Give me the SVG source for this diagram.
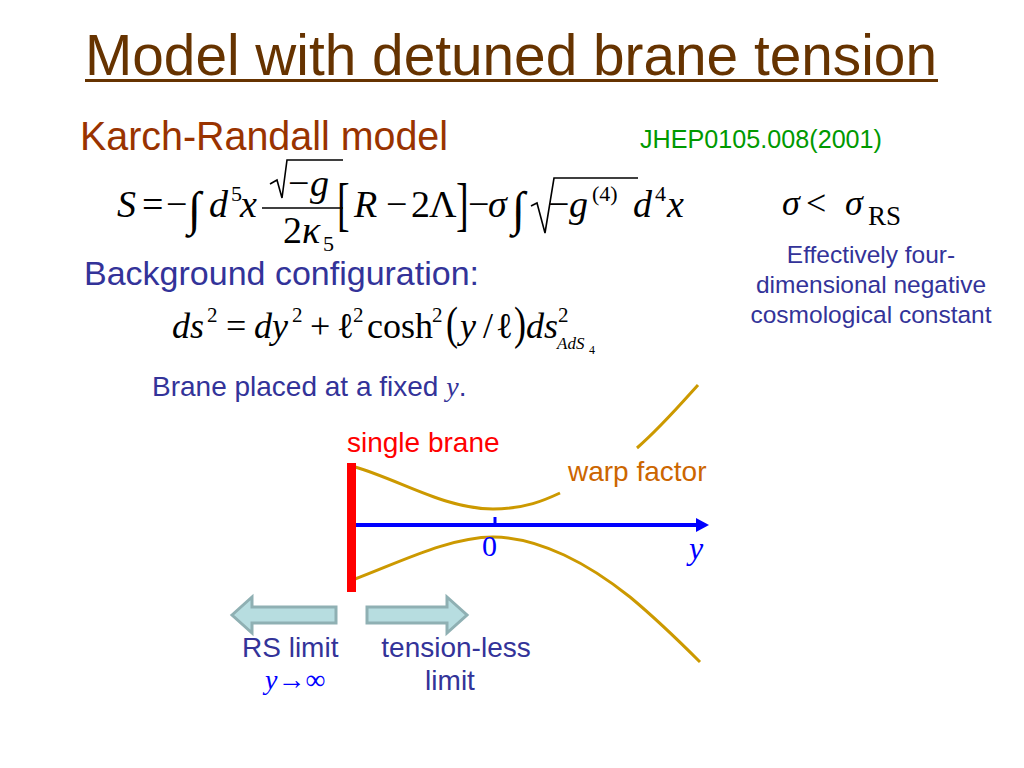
<svg xmlns="http://www.w3.org/2000/svg" width="1024" height="768" viewBox="0 0 1024 768">
<style>
.sans{font-family:"Liberation Sans",Arial,sans-serif}
.m{font-family:"Liberation Serif","Times New Roman",serif;fill:#000}
.i{font-style:italic}
.blue{fill:#333399}
.warp{fill:none;stroke:#CC9900;stroke-width:3}
.barrow{fill:#B7DDE0;stroke:#8FB0B3;stroke-width:3}
.rad{fill:none;stroke:#000;stroke-width:1.6}
</style>
<rect width="1024" height="768" fill="#fff"/>
<g id="title">
<text x="85" y="75" class="sans" font-size="58" fill="#663300" textLength="852" lengthAdjust="spacingAndGlyphs">Model with detuned brane tension</text>
<line x1="85" y1="80.5" x2="938" y2="80.5" stroke="#663300" stroke-width="3"/>
</g>
<g id="karch">
<text x="80" y="150" class="sans" font-size="40" fill="#993300" textLength="368" lengthAdjust="spacingAndGlyphs">Karch-Randall model</text>
<text x="640" y="148" class="sans" font-size="25" fill="#009900" textLength="242" lengthAdjust="spacingAndGlyphs">JHEP0105.008(2001)</text>
</g>
<g id="action" class="m" font-size="38">
<text x="117" y="217" class="i">S</text>
<text x="142" y="217">=</text>
<text x="166" y="217">−</text>
<text x="188" y="225" font-size="48">∫</text>
<text x="209" y="217" class="i">d</text>
<text x="231" y="201" font-size="22">5</text>
<text x="240" y="217" class="i">x</text>
<line x1="262" y1="208" x2="343" y2="208" stroke="#000" stroke-width="1.6"/>
<path class="rad" d="M270,184 L277,180 L282,198 L287,160 L343,160"/>
<text x="288" y="196">−</text>
<text x="310" y="196" class="i">g</text>
<text x="283" y="243">2</text>
<text x="302" y="243" class="i">κ</text>
<text x="323" y="251" font-size="22">5</text>
<text transform="translate(337,224) scale(1,1.55)">[</text>
<text x="354" y="217" class="i">R</text>
<text x="386" y="217">−</text>
<text x="411" y="217">2</text>
<text x="429" y="217">Λ</text>
<text transform="translate(456,224) scale(1,1.55)">]</text>
<text x="468" y="217">−</text>
<text x="488" y="217" class="i">σ</text>
<text x="512" y="225" font-size="48">∫</text>
<path class="rad" d="M531,206 L537,203 L545,233 L554,178 L638,178"/>
<text x="548" y="217">−</text>
<text x="569" y="217" class="i">g</text>
<text x="592" y="201" font-size="22">(4)</text>
<text x="633" y="217" class="i">d</text>
<text x="655" y="201" font-size="22">4</text>
<text x="667" y="217" class="i">x</text>
</g>
<g id="sigma" class="m" font-size="36">
<text x="782" y="215" class="i">σ</text>
<text x="806" y="215">&lt;</text>
<text x="845" y="215" class="i">σ</text>
<text x="868" y="225" font-size="27">RS</text>
</g>
<g id="effective" class="sans blue" font-size="24.5" text-anchor="middle">
<text x="871" y="263">Effectively four-</text>
<text x="871" y="293">dimensional negative</text>
<text x="871" y="323">cosmological constant</text>
</g>
<g id="background">
<text x="84" y="285" class="sans blue" font-size="34">Background configuration:</text>
</g>
<g id="metric" class="m" font-size="36">
<text x="172" y="338" class="i">ds</text>
<text x="207" y="322" font-size="21">2</text>
<text x="226" y="338">=</text>
<text x="254" y="338" class="i">dy</text>
<text x="292" y="322" font-size="21">2</text>
<text x="310" y="338">+</text>
<text x="337" y="338">ℓ</text>
<text x="353" y="322" font-size="21">2</text>
<text x="367" y="338">cosh</text>
<text x="432" y="322" font-size="21">2</text>
<text transform="translate(446,339) scale(1,1.3)">(</text>
<text x="460" y="338" class="i">y</text>
<text x="483" y="338">/</text>
<text x="496" y="338">ℓ</text>
<text transform="translate(514,339) scale(1,1.3)">)</text>
<text x="526" y="338" class="i">ds</text>
<text x="558" y="322" font-size="21">2</text>
<text x="557" y="349" font-size="17" class="i">AdS</text>
<text x="589" y="354" font-size="12">4</text>
</g>
<g id="brane-placed">
<text x="152" y="396" class="sans blue" font-size="28">Brane placed at a fixed <tspan font-family="Liberation Serif" font-style="italic">y</tspan>.</text>
</g>
<g id="plot">
<path class="warp" d="M355,467 C400,480 445,509 493,509 C525,509 545,500 560,493"/>
<path class="warp" d="M637,448 C660,428 680,405 698,385"/>
<path class="warp" d="M355,579 C400,562 450,537 493,537 C540,537 590,565 630,597 C660,622 680,642 700,662"/>
<rect x="347" y="463" width="9" height="129" fill="#FF0000"/>
<line x1="356" y1="525" x2="698" y2="525" stroke="#0000FF" stroke-width="4"/>
<polygon points="696,518 709,525 696,532" fill="#0000FF"/>
<line x1="495" y1="517" x2="495" y2="525" stroke="#0000FF" stroke-width="3"/>
<text x="482" y="556" class="m" font-size="30" style="fill:#0000FF">0</text>
<text x="689" y="559" class="m i" font-size="32" style="fill:#0000FF">y</text>
<text x="347" y="452" class="sans" font-size="28" fill="#FF0000">single brane</text>
<text x="568" y="481" class="sans" font-size="28" fill="#CC6600">warp factor</text>
</g>
<g id="rs-limit">
<polygon class="barrow" points="232,615 252,597 252,607 336,607 336,623 252,623 252,633"/>
<text x="242" y="657" class="sans blue" font-size="28">RS limit</text>
<text x="265" y="689" class="m" font-size="28" style="fill:#0000FF"><tspan font-style="italic">y</tspan>→∞</text>
</g>
<g id="tensionless">
<polygon class="barrow" points="367,607 447,607 447,597 467,615 447,633 447,623 367,623"/>
<text x="456" y="657" class="sans blue" font-size="28" text-anchor="middle">tension-less</text>
<text x="450" y="690" class="sans blue" font-size="28" text-anchor="middle">limit</text>
</g>
</svg>
